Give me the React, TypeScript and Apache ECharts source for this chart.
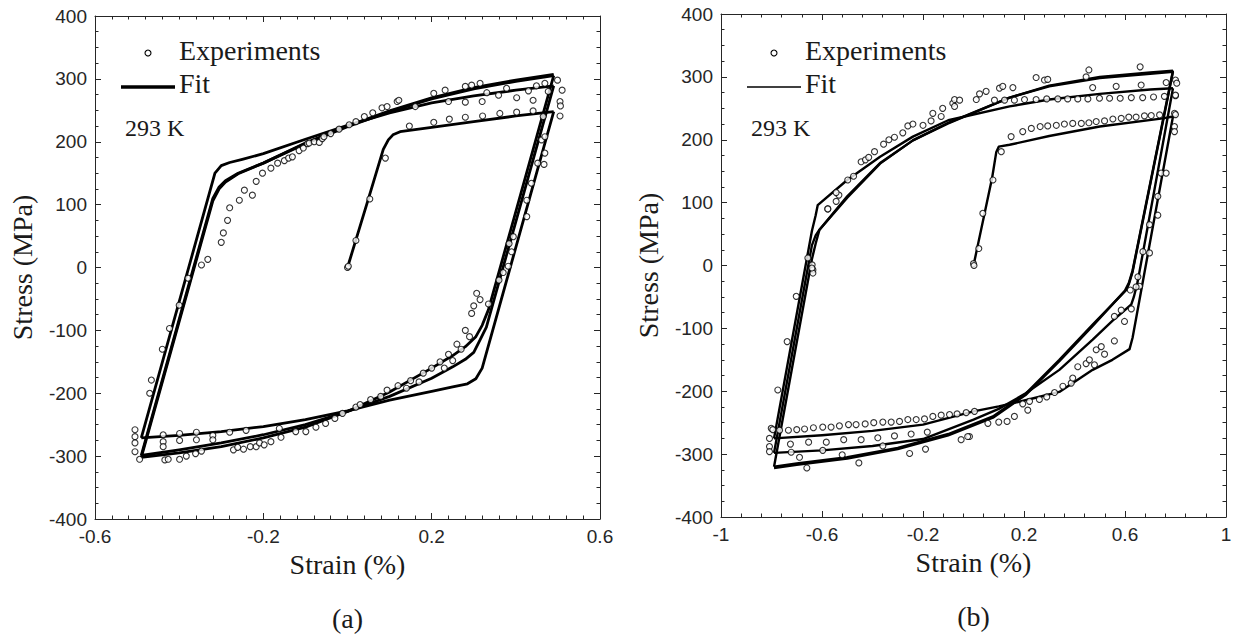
import { useEffect, useRef } from "react";
import * as echarts from "echarts";

type P = [number, number];

// ---------- axis ticks ----------
const xTicksA = { min: -0.6, max: 0.6, interval: 0.4, minor: 10 };
const xTicksB = { min: -1, max: 1, interval: 0.4, minor: 5 };
const yTicks = { min: -400, max: 400, interval: 100, minor: 4 };

// ---------- panel (a) fit curves ----------
const fitA0: P[] = [[0,0],[0.05,110],[0.085,188],[0.097,203],[0.108,211],[0.125,216],[0.2,223],[0.3,232],[0.4,241],[0.49,248]];
const fitA1: P[] = [[0.49,248],[0.32,-160],[0.305,-177],[0.285,-185],[0.25,-190],[0.2,-197],[0.1,-211],[0,-228],[-0.1,-242],[-0.2,-253],[-0.3,-261],[-0.4,-267],[-0.49,-271]];
const fitA2: P[] = [[-0.49,-271],[-0.315,150],[-0.3,162],[-0.28,167],[-0.25,172],[-0.2,181],[-0.1,204],[0,226],[0.1,246],[0.2,262],[0.3,273],[0.4,282],[0.49,289]];
const fitA3: P[] = [[0.49,289],[0.33,-95],[0.315,-115],[0.3,-135],[0.28,-146],[0.25,-158],[0.2,-176],[0.1,-205],[0,-229],[-0.1,-250],[-0.2,-266],[-0.3,-279],[-0.4,-290],[-0.49,-299]];
const fitA4: P[] = [[-0.49,-299],[-0.32,110],[-0.305,128],[-0.29,138],[-0.26,150],[-0.2,166],[-0.1,197],[0,224],[0.1,248],[0.2,268],[0.3,284],[0.4,296],[0.49,305]];
const fitA5: P[] = [[0.49,305],[0.335,-67],[0.32,-92],[0.305,-110],[0.28,-126],[0.25,-140],[0.2,-160],[0.1,-198],[0,-229],[-0.1,-254],[-0.2,-271],[-0.3,-285],[-0.4,-295],[-0.49,-302]];
const fitA6: P[] = [[-0.49,-302],[-0.32,106],[-0.305,125],[-0.29,136],[-0.26,149],[-0.2,166],[-0.1,198],[0,225],[0.1,249],[0.2,270],[0.3,286],[0.4,298],[0.49,307]];

// ---------- panel (a) experiments ----------
const expA_mono: P[] = [[0,0],[0.002,2],[0.02,43],[0.053,109],[0.09,174],[0.147,225],[0.205,231],[0.242,236],[0.28,239],[0.321,241],[0.362,245],[0.402,247],[0.441,249],[0.465,240],[0.505,241]];
const expA_upper: P[] = [[-0.257,107],[-0.245,123],[-0.226,115],[-0.217,137],[-0.202,150],[-0.182,158],[-0.166,166],[-0.15,170],[-0.14,174],[-0.131,176],[-0.115,186],[-0.105,190],[-0.095,197],[-0.091,198],[-0.079,200],[-0.067,199],[-0.06,205],[-0.056,208],[-0.04,213],[-0.02,220],[0.004,227],[0.02,232],[0.04,240],[0.06,246],[0.082,254],[0.094,256],[0.118,264],[0.122,266],[0.161,256],[0.205,277],[0.232,282],[0.24,264],[0.28,288],[0.28,263],[0.295,290],[0.315,293],[0.32,264],[0.331,278],[0.359,274],[0.378,285],[0.402,270],[0.43,281],[0.441,266],[0.449,289],[0.469,293],[0.477,280],[0.499,298],[0.51,282],[0.505,264],[0.506,257]];
const expA_lower: P[] = [[-0.438,-266],[-0.438,-277],[-0.438,-285],[-0.434,-306],[-0.426,-305],[-0.399,-264],[-0.399,-275],[-0.399,-305],[-0.383,-300],[-0.361,-296],[-0.359,-262],[-0.359,-274],[-0.347,-292],[-0.32,-267],[-0.32,-274],[-0.28,-262],[-0.271,-290],[-0.261,-286],[-0.247,-289],[-0.241,-259],[-0.231,-285],[-0.217,-285],[-0.209,-279],[-0.198,-282],[-0.182,-277],[-0.162,-256],[-0.158,-270],[-0.123,-261],[-0.099,-261],[-0.075,-254],[-0.052,-248],[-0.03,-240],[-0.012,-232],[0.02,-222],[0.03,-218],[0.055,-210],[0.079,-205],[0.094,-195]];
const expA_right: P[] = [[0.12,-188],[0.15,-180],[0.18,-168],[0.2,-160],[0.22,-150],[0.24,-138],[0.26,-122],[0.28,-100],[0.295,-73],[0.307,-41],[0.315,-51],[0.14,-192],[0.17,-182],[0.23,-160],[0.25,-148],[0.27,-130],[0.29,-110],[0.3,-61],[0.335,-58],[0.36,-20],[0.37,-8],[0.382,2],[0.39,25],[0.384,38],[0.394,49],[0.426,81],[0.426,107],[0.437,134],[0.452,166],[0.467,164],[0.469,182],[0.461,203],[0.469,208]];
const expA_left: P[] = [[-0.28,95],[-0.285,75],[-0.295,55],[-0.3,40],[-0.332,13],[-0.347,4],[-0.379,-17],[-0.4,-60],[-0.423,-97],[-0.44,-130],[-0.466,-179],[-0.47,-200],[-0.505,-258],[-0.505,-269],[-0.505,-279],[-0.505,-293],[-0.494,-305]];

// ---------- panel (b) fit curves ----------
const fitB0: P[] = [[0,0],[0.044,83],[0.074,140],[0.09,180],[0.1,189],[0.143,192],[0.3,206],[0.5,221],[0.75,234],[0.79,237]];
const fitB1: P[] = [[0.79,237],[0.63,-115],[0.618,-133],[0.55,-150],[0.472,-166],[0.34,-201],[0.25,-210],[0.156,-219],[0.1,-224],[0,-232],[-0.2,-253],[-0.4,-263],[-0.6,-270],[-0.79,-275]];
const fitB2: P[] = [[-0.79,-275],[-0.64,55],[-0.625,80],[-0.617,96],[-0.5,136],[-0.37,173],[-0.24,205],[-0.1,231],[0.143,253],[0.3,264],[0.5,273],[0.7,280],[0.79,282]];
const fitB3: P[] = [[0.79,282],[0.65,-26],[0.635,-50],[0.625,-62],[0.55,-88],[0.472,-118],[0.34,-166],[0.2,-205],[0.1,-228],[0,-245],[-0.2,-276],[-0.4,-287],[-0.6,-294],[-0.79,-298]];
const fitB4: P[] = [[-0.79,-298],[-0.64,32],[-0.625,48],[-0.61,57],[-0.5,110],[-0.37,163],[-0.24,199],[-0.1,227],[0.143,267],[0.3,285],[0.5,298],[0.7,305],[0.79,308]];
const fitB5: P[] = [[0.79,308],[0.63,-10],[0.615,-30],[0.605,-39],[0.472,-94],[0.34,-150],[0.209,-203],[0.077,-240],[-0.1,-268],[-0.3,-290],[-0.5,-305],[-0.7,-315],[-0.79,-320]];
const fitB6: P[] = [[-0.79,-320],[-0.64,10],[-0.625,35],[-0.61,57],[-0.5,108],[-0.37,162],[-0.24,199],[-0.1,226],[0.143,267],[0.3,286],[0.5,300],[0.7,307],[0.79,310]];
const fitB7: P[] = [[0.79,310],[0.63,-8],[0.615,-28],[0.6,-40],[0.472,-96],[0.34,-152],[0.209,-205],[0.077,-242],[-0.1,-270],[-0.3,-292],[-0.5,-307],[-0.7,-317],[-0.79,-322]];

// ---------- panel (b) experiments ----------
const expB_mono: P[] = [[0,3],[0.002,0],[0.021,27],[0.037,83],[0.077,136],[0.11,181],[0.149,205],[0.195,213],[0.229,218],[0.264,221],[0.294,222],[0.328,223],[0.36,225],[0.393,226],[0.427,226],[0.457,227],[0.486,229],[0.519,230],[0.552,233],[0.585,234],[0.615,236],[0.644,236],[0.677,238],[0.704,238.5],[0.737,239.5],[0.796,242],[0.796,221]];
const expB_row: P[] = [[0.083,263],[0.123,263],[0.162,263],[0.202,264],[0.248,264],[0.29,265],[0.334,265],[0.373,265],[0.413,265],[0.453,265],[0.499,266],[0.539,266],[0.581,266],[0.625,267],[0.67,267],[0.713,268],[0.756,269],[0.8,270]];
const expB_upper: P[] = [[-0.577,90],[-0.544,102],[-0.533,112],[-0.544,116],[-0.498,136],[-0.475,142],[-0.445,165],[-0.428,168],[-0.415,172],[-0.392,181],[-0.356,193],[-0.335,200],[-0.313,204],[-0.28,211],[-0.26,222],[-0.24,225],[-0.2,223],[-0.168,230],[-0.161,242],[-0.128,237],[-0.122,250],[-0.082,258],[-0.075,253],[-0.075,264],[-0.055,263],[0.011,264],[0.024,273],[0.05,277],[0.103,282],[0.116,285],[0.156,283],[0.248,299],[0.281,295],[0.294,296],[0.446,300],[0.457,311],[0.472,283],[0.565,285],[0.66,316],[0.664,287],[0.763,291],[0.8,295],[0.805,290]];
const expB_left: P[] = [[-0.577,90],[-0.656,12],[-0.639,1],[-0.636,-7],[-0.636,-12],[-0.64,-4],[-0.702,-49],[-0.738,-121],[-0.775,-198],[-0.801,-259],[-0.795,-261],[-0.808,-275],[-0.808,-288],[-0.808,-296]];
const expB_low1: P[] = [[-0.768,-262],[-0.733,-262],[-0.7,-261],[-0.669,-260],[-0.634,-258],[-0.597,-257],[-0.564,-257],[-0.531,-255],[-0.495,-253],[-0.465,-253],[-0.429,-252],[-0.395,-250],[-0.359,-249],[-0.326,-249],[-0.293,-248],[-0.26,-245],[-0.227,-245],[-0.194,-244],[-0.161,-240],[-0.128,-238],[-0.095,-237],[-0.065,-236],[-0.029,-234],[0.004,-232]];
const expB_low2: P[] = [[-0.725,-284],[-0.653,-281],[-0.583,-281],[-0.514,-277],[-0.445,-277],[-0.379,-274],[-0.313,-271],[-0.247,-268],[-0.183,-265]];
const expB_low3: P[] = [[-0.722,-297],[-0.689,-305],[-0.66,-322],[-0.597,-294],[-0.52,-301],[-0.454,-314],[-0.359,-287],[-0.253,-299],[-0.19,-292],[-0.049,-277],[-0.016,-272]];
const expB_right: P[] = [[-0.023,-272],[0.057,-251],[0.1,-249],[0.133,-248],[0.162,-240],[0.195,-220],[0.215,-230],[0.222,-216],[0.261,-213],[0.29,-209],[0.321,-202],[0.354,-192],[0.387,-187],[0.393,-179],[0.413,-161],[0.446,-156],[0.459,-150],[0.479,-158],[0.486,-134],[0.506,-129],[0.519,-141],[0.558,-120],[0.558,-81],[0.585,-71],[0.598,-89],[0.625,-69],[0.621,-39],[0.658,-33],[0.644,-34],[0.651,-18],[0.671,22],[0.697,20],[0.697,65],[0.73,80],[0.73,110],[0.743,147],[0.763,147],[0.796,213],[0.8,240],[0.8,271]];

const fitsA = [fitA0, fitA1, fitA2, fitA3, fitA4, fitA5, fitA6];
const expsA = [expA_mono, expA_upper, expA_lower, expA_right, expA_left];
const fitsB = [fitB0, fitB1, fitB2, fitB3, fitB4, fitB5, fitB6, fitB7];
const expsB = [expB_mono, expB_row, expB_upper, expB_left, expB_low1, expB_low2, expB_low3, expB_right];

const AX = "#262626";
const TXT = "#1a1a1a";
const SANS = "Liberation Sans, Arial, sans-serif";
const SERIF = "Liberation Serif, DejaVu Serif, serif";

const serifStyle = (size: number) => ({
  fontFamily: SERIF,
  fontSize: size,
  fontWeight: "normal" as const,
  color: TXT,
  lineHeight: size,
});

function axisBase(grid: number, t: { min: number; max: number; interval: number; minor: number }) {
  return {
    type: "value",
    gridIndex: grid,
    min: t.min,
    max: t.max,
    interval: t.interval,
    axisLine: { show: true, onZero: false, lineStyle: { color: AX, width: 1 } },
    axisTick: { show: true, inside: true, length: 6, lineStyle: { color: AX, width: 1 } },
    minorTick: { show: true, splitNumber: t.minor, length: 3.5, lineStyle: { color: AX, width: 1 } },
    splitLine: { show: false },
    minorSplitLine: { show: false },
  };
}
const labelStyle = { color: AX, fontFamily: SANS, fontSize: 19, margin: 8 };

function panelLabelAxis(grid: number, t: { min: number; max: number }, name: string) {
  return {
    type: "value",
    gridIndex: grid,
    min: t.min,
    max: t.max,
    position: "bottom",
    axisLine: { show: false, onZero: false },
    axisTick: { show: false },
    axisLabel: { show: false },
    splitLine: { show: false },
    name,
    nameLocation: "middle",
    nameGap: 85,
    nameTextStyle: serifStyle(28),
  };
}

function buildSeries(fits: P[][], exps: P[][], axisIdx: number, width: number) {
  const s: any[] = [];
  fits.forEach((d) =>
    s.push({
      type: "line",
      xAxisIndex: axisIdx,
      yAxisIndex: axisIdx,
      data: d,
      showSymbol: false,
      symbol: "none",
      silent: true,
      z: 2,
      lineStyle: { color: "#000", width, join: "round" },
    })
  );
  exps.forEach((d) =>
    s.push({
      type: "scatter",
      xAxisIndex: axisIdx,
      yAxisIndex: axisIdx,
      data: d,
      symbol: "circle",
      symbolSize: 6,
      silent: true,
      z: 3,
      itemStyle: { color: "#fff", borderColor: "#000", borderWidth: 1.1 },
    })
  );
  return s;
}

function legendTitles(ox: number) {
  return [
    { text: "Experiments", left: ox + 84, top: 36.5, padding: 0, textStyle: serifStyle(28) },
    { text: "Fit", left: ox + 84, top: 69.5, padding: 0, textStyle: serifStyle(28) },
    { text: "293 K", left: ox + 30, top: 116, padding: 0, textStyle: serifStyle(24) },
  ];
}

function legendMarks(ox: number, fitWidth: number) {
  return [
    { type: "circle", silent: true, shape: { cx: ox + 53, cy: 53, r: 3 }, style: { fill: "#fff", stroke: "#000", lineWidth: 1.1 } },
    { type: "line", silent: true, shape: { x1: ox + 26, y1: 87, x2: ox + 80, y2: 87 }, style: { stroke: "#000", lineWidth: fitWidth } },
  ];
}

export default function App() {
  const ref = useRef<HTMLDivElement>(null);
  useEffect(() => {
    if (!ref.current) return;
    const chart = echarts.init(ref.current, undefined, { renderer: "svg" });
    const gA = { left: 95, top: 16, width: 505, height: 503 };
    const gB = { left: 721, top: 14, width: 505, height: 503 };
    const xName = { name: "Strain (%)", nameLocation: "middle", nameGap: 30, nameTextStyle: serifStyle(28) };
    const yName = { name: "Stress (MPa)", nameLocation: "middle", nameRotate: 90, nameGap: 59, nameTextStyle: serifStyle(28) };
    chart.setOption({
      animation: false,
      backgroundColor: "#fff",
      grid: [
        { ...gA, containLabel: false },
        { ...gB, containLabel: false },
      ],
      title: [...legendTitles(95), ...legendTitles(721)],
      xAxis: [
        { ...axisBase(0, xTicksA), position: "bottom", axisLabel: labelStyle, ...xName },
        { ...axisBase(0, xTicksA), position: "top", axisLabel: { show: false } },
        { ...axisBase(1, xTicksB), position: "bottom", axisLabel: labelStyle, ...xName },
        { ...axisBase(1, xTicksB), position: "top", axisLabel: { show: false } },
        panelLabelAxis(0, xTicksA, "(a)"),
        panelLabelAxis(1, xTicksB, "(b)"),
      ],
      yAxis: [
        { ...axisBase(0, yTicks), position: "left", axisLabel: labelStyle, ...yName },
        { ...axisBase(0, yTicks), position: "right", axisLabel: { show: false } },
        { ...axisBase(1, yTicks), position: "left", axisLabel: labelStyle, ...yName },
        { ...axisBase(1, yTicks), position: "right", axisLabel: { show: false } },
      ],
      series: [...buildSeries(fitsA, expsA, 0, 2.8), ...buildSeries(fitsB, expsB, 2, 2.4)],
      graphic: [...legendMarks(95, 3.3), ...legendMarks(721, 1.3)],
    });
    return () => chart.dispose();
  }, []);
  return (
    <div
      ref={ref}
      style={{ position: "fixed", left: 0, top: 0, width: 1241, height: 642, background: "#fff" }}
    />
  );
}
